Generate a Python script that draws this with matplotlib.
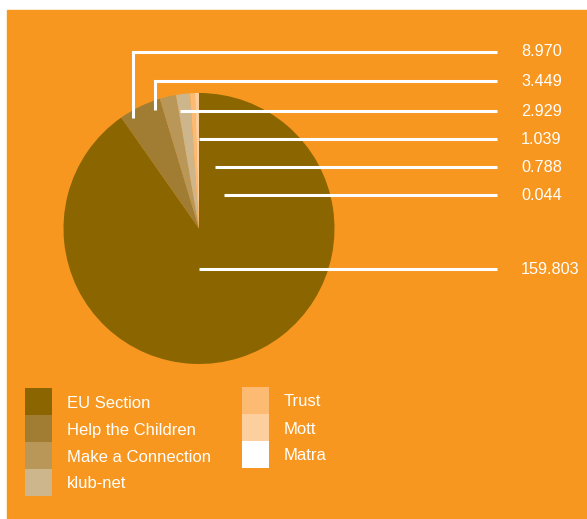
import matplotlib.pyplot as plt
from matplotlib.patches import Rectangle

plt.rcParams['font.family'] = ['Liberation Sans', 'DejaVu Sans']

# Datos
categorias = ['EU Section', 'Help the Children', 'Make a Connection', 'klub-net',
              'Trust', 'Mott', 'Matra']
valores = [159.803, 8.970, 3.449, 2.929, 1.039, 0.788, 0.044]
etiquetas = ['159.803', '8.970', '3.449', '2.929', '1.039', '0.788', '0.044']

# Estilo
colores = ['#8A6500', '#A07D32', '#B89758', '#CEB68C', '#FCBA72', '#FDCE9E', '#FFFFFF']
naranja = '#F8971F'

W, H = 587, 519
fig = plt.figure(figsize=(W / 100, H / 100), dpi=100)
ax = fig.add_axes([0, 0, 1, 1])

# Panel naranja
ax.add_patch(Rectangle((7, 0), W - 7, H - 10, color=naranja, zorder=0))

# Pastel
centro = (199, H - 228.5)
radio = 135.5
ax.pie(valores, colors=colores, startangle=90, counterclock=False,
       center=centro, radius=radio, wedgeprops=dict(linewidth=0))

# Líneas guía: (x inicio, y inicio, y etiqueta) en píxeles desde arriba
guias = [(199, 269, 269), (133, 118, 52), (155, 110, 81), (180, 111, 111),
         (199, 139, 139), (215, 167, 167), (224, 195, 195)]
x_fin, x_texto = 497, 521
for (x0, y0, yl), txt in zip(guias, etiquetas):
    ax.plot([x0, x0, x_fin], [H - y0, H - yl, H - yl], color='white', lw=2.2,
            solid_joinstyle='miter', solid_capstyle='butt', zorder=3)
    ax.text(x_texto, H - yl, txt, color='white', fontsize=11.7, va='center', ha='left')

# Leyenda
filas = [(25, 388), (25, 415), (25, 442), (25, 469), (242, 387), (242, 414), (242, 441)]
lado = 27
for (x, y), cat, col in zip(filas, categorias, colores):
    ax.add_patch(Rectangle((x, H - y - lado), lado, lado, color=col, lw=0, zorder=2))
    ax.text(x + 42, H - y - lado / 2 - 1.5, cat, color='white', fontsize=12,
            va='center', ha='left')

ax.set_xlim(0, W)
ax.set_ylim(0, H)
ax.set_aspect('equal')
ax.axis('off')
fig.savefig('out.png', dpi=100)
